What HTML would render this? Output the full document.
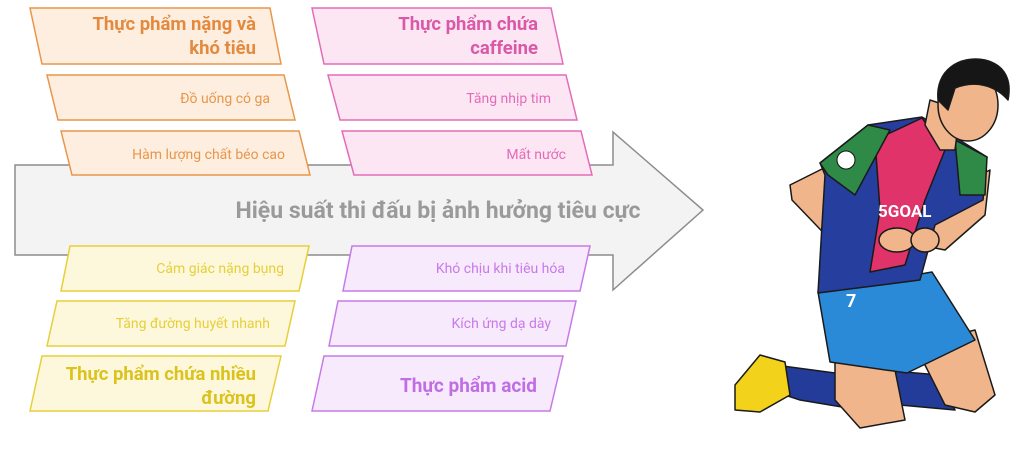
<!DOCTYPE html>
<html><head><meta charset="utf-8"><style>
html,body{margin:0;padding:0;background:#fff;}
svg{display:block;}
text{font-family:"Roboto","Liberation Sans",sans-serif;}
</style></head><body>
<svg width="1024" height="453" viewBox="0 0 1024 453" xmlns="http://www.w3.org/2000/svg">
<!-- arrow -->
<polygon points="15,165 613,165 613,132 703,210 613,290 613,255 15,255" fill="#f3f3f3" stroke="#8c8c8c" stroke-width="1.5"/>
<text x="438" y="218" text-anchor="middle" font-size="23" font-weight="bold" fill="#9a9a9a">Hiệu suất thi đấu bị ảnh hưởng tiêu cực</text>

<!-- orange -->
<g fill="#fdeee0" stroke="#e8964a" stroke-width="1.5">
<polygon points="30,8 270,8 281,64 42,64"/>
<polygon points="47,75 284,75 295,120 58,120"/>
<polygon points="61,131 299,131 310,175 72,175"/>
</g>
<g fill="#e38a3e" font-weight="bold" font-size="18.5" text-anchor="end">
<text x="256" y="30">Thực phẩm nặng và</text>
<text x="256" y="54">khó tiêu</text>
</g>
<g fill="#e8964a" font-size="14" text-anchor="end">
<text x="270" y="103">Đồ uống có ga</text>
<text x="285" y="159">Hàm lượng chất béo cao</text>
</g>

<!-- pink -->
<g fill="#fde6f3" stroke="#e36cb8" stroke-width="1.5">
<polygon points="312,8 551,8 563,64 324,64"/>
<polygon points="328,75 566,75 577,120 340,120"/>
<polygon points="342,131 581,131 592,175 354,175"/>
</g>
<g fill="#d959a8" font-weight="bold" font-size="18.5" text-anchor="end">
<text x="538" y="30">Thực phẩm chứa</text>
<text x="538" y="54">caffeine</text>
</g>
<g fill="#e36cb8" font-size="14" text-anchor="end">
<text x="551" y="103">Tăng nhịp tim</text>
<text x="566" y="159">Mất nước</text>
</g>

<!-- yellow -->
<g fill="#fdf8dc" stroke="#e6cf3a" stroke-width="1.5">
<polygon points="70,246 309,246 299,291 61,291"/>
<polygon points="57,301 295,301 285,346 47,346"/>
<polygon points="42,356 281,356 268,411 30,411"/>
</g>
<g fill="#e6cf3a" font-size="14" text-anchor="end">
<text x="284" y="273">Cảm giác nặng bụng</text>
<text x="270" y="328">Tăng đường huyết nhanh</text>
</g>
<g fill="#dcc21c" font-weight="bold" font-size="18.5" text-anchor="end">
<text x="256" y="380">Thực phẩm chứa nhiều</text>
<text x="256" y="404">đường</text>
</g>

<!-- purple -->
<g fill="#f8eafd" stroke="#c77ae8" stroke-width="1.5">
<polygon points="352,246 590,246 580,291 343,291"/>
<polygon points="338,301 576,301 566,346 329,346"/>
<polygon points="324,356 563,356 550,411 312,411"/>
</g>
<g fill="#c77ae8" font-size="14" text-anchor="end">
<text x="565" y="273">Khó chịu khi tiêu hóa</text>
<text x="551" y="328">Kích ứng dạ dày</text>
</g>
<text x="537" y="392" text-anchor="end" fill="#bf6ee3" font-weight="bold" font-size="19">Thực phẩm acid</text>

<!-- player (approximation) -->
<g stroke="#1a1a1a" stroke-width="1.5" stroke-linejoin="round">
<polygon points="775,365 850,375 860,410 800,400 770,390" fill="#233c9a"/>
<polygon points="735,385 760,355 785,362 790,395 760,412 735,410" fill="#f2d21a"/>
<polygon points="880,370 940,375 955,410 900,405" fill="#233c9a"/>
<polygon points="835,350 890,345 905,420 860,428 835,400" fill="#f0b58a"/>
<polygon points="915,345 975,330 995,395 975,412 945,405" fill="#f0b58a"/>
<polygon points="818,292 932,272 975,340 907,373 830,362" fill="#2a8ad8"/>
<polygon points="790,185 830,165 850,215 905,245 900,262 840,250 792,200" fill="#f0b58a"/>
<polygon points="960,185 990,170 985,215 945,250 920,245" fill="#f0b58a"/>
<polygon points="820,163 868,125 922,117 987,157 983,200 935,225 920,280 818,293 822,225 825,175" fill="#263e9e"/>
<polygon points="875,140 922,118 945,150 925,200 905,265 870,272 880,210" fill="#e0336a"/>
<polygon points="820,163 868,125 890,130 855,195 828,175" fill="#2f8a48"/>
<polygon points="955,140 987,157 985,195 960,195" fill="#2f8a48"/>
<polygon points="930,100 960,110 955,150 940,150 925,125" fill="#f0b58a"/>
<ellipse cx="968" cy="105" rx="30" ry="36" fill="#f0b58a"/>
<path d="M938,100 C935,70 960,55 985,60 C1005,65 1012,80 1008,100 C995,85 975,80 955,88 L948,110 Z" fill="#161616"/>
<ellipse cx="897" cy="240" rx="18" ry="12" fill="#f0b58a"/>
<ellipse cx="925" cy="240" rx="14" ry="12" fill="#f0b58a"/>
</g>
<text x="878" y="217" font-size="17" font-weight="bold" fill="#fff" stroke="none">5GOAL</text>
<text x="846" y="307" font-size="18" font-weight="bold" fill="#fff">7</text>
<circle cx="846" cy="160" r="9" fill="#fff" stroke="#111"/>
</svg>
</body></html>
